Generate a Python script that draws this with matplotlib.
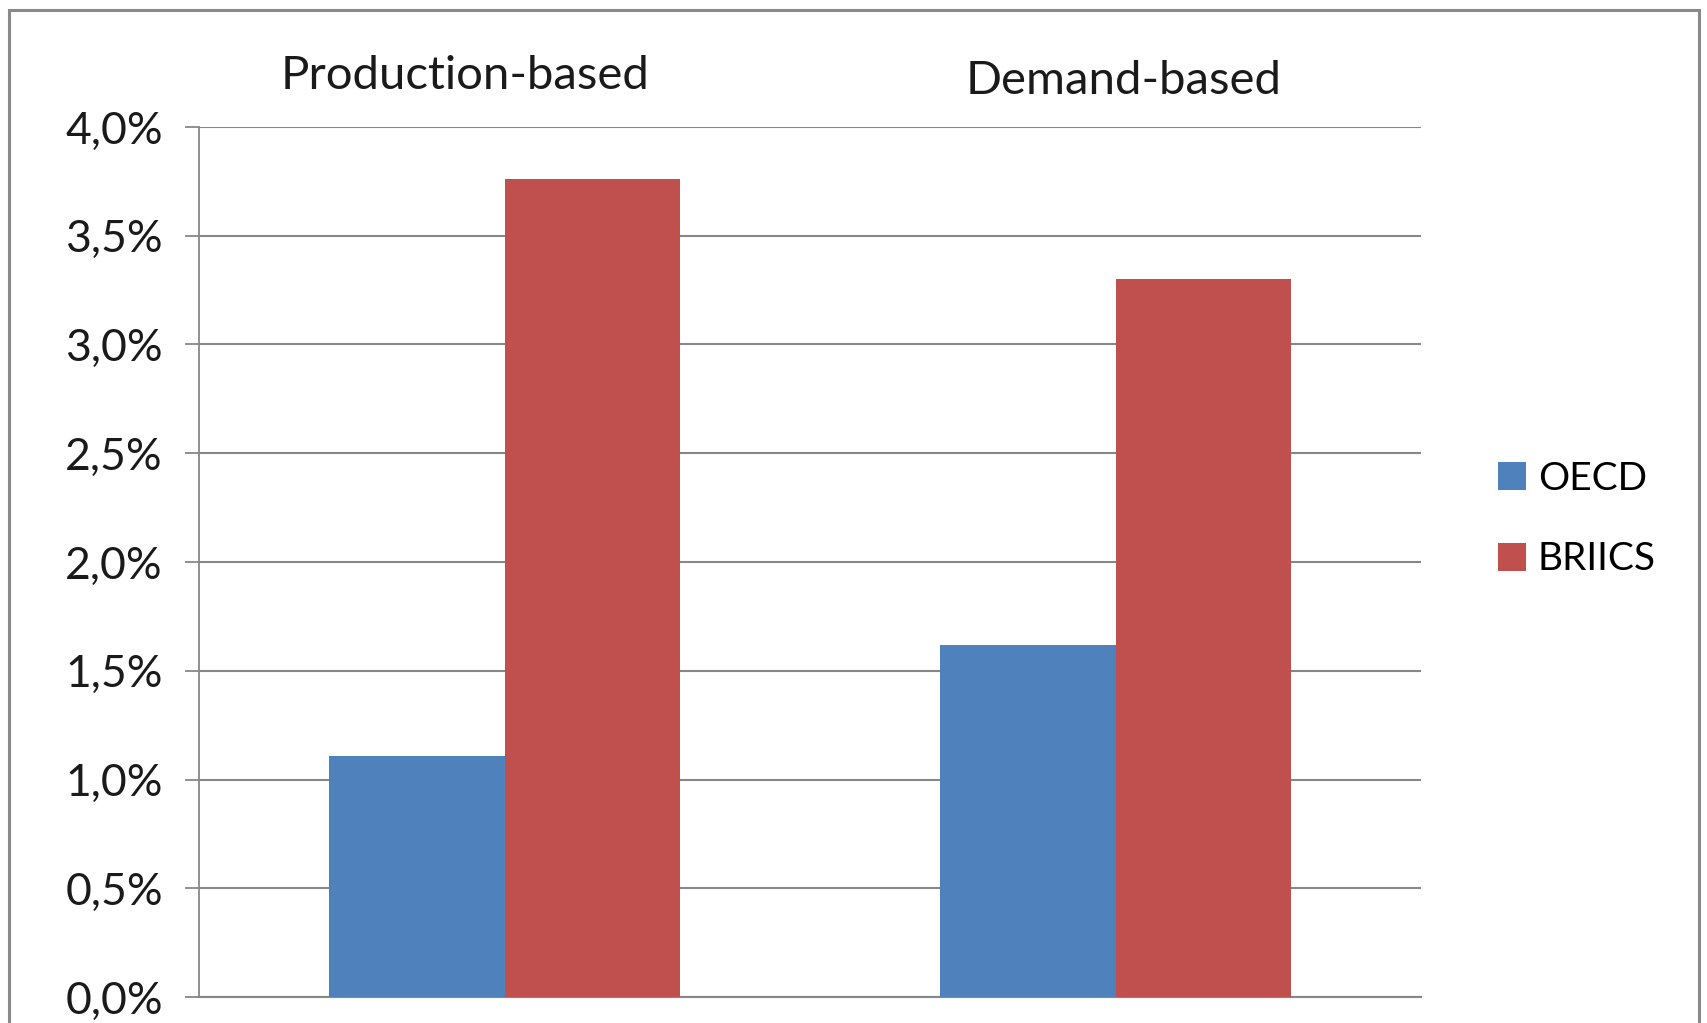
import matplotlib
matplotlib.use('Agg')
import matplotlib.pyplot as plt
from matplotlib.patches import Rectangle
import numpy as np

plt.rcParams['font.family'] = ['Lato', 'DejaVu Sans']

# data
categories = ['Production-based', 'Demand-based']
oecd = [1.11, 1.62]
briics = [3.76, 3.30]
series_names = ['OECD', 'BRIICS']
yticks = [0.0, 0.5, 1.0, 1.5, 2.0, 2.5, 3.0, 3.5, 4.0]
ytick_labels = ['0,0%', '0,5%', '1,0%', '1,5%', '2,0%', '2,5%', '3,0%', '3,5%', '4,0%']

blue = '#4F81BD'
red = '#C0504D'
grid_col = '#878787'

fig = plt.figure(figsize=(17.07, 10.23), dpi=100)
ax = fig.add_axes([0.1166, 0.0254, 0.7159, 0.8505])

x = np.arange(len(categories))
w = 0.287
ax.bar(x - w / 2, oecd, width=w, color=blue, label=series_names[0], zorder=3)
ax.bar(x + w / 2, briics, width=w, color=red, label=series_names[1], zorder=3)

ax.set_xlim(-0.5, 1.5)
ax.set_ylim(0, 4.0)
ax.set_yticks(yticks)
ax.set_yticklabels(ytick_labels, fontsize=32, color='#1a1a1a')
ax.yaxis.grid(True, color=grid_col, linewidth=1.5, zorder=0)
ax.set_xticks([])
ax.tick_params(axis='y', length=10, width=1.3, color=grid_col, pad=16)

for side in ['top', 'right']:
    ax.spines[side].set_visible(False)
ax.spines['left'].set_color(grid_col)
ax.spines['left'].set_linewidth(1.3)
ax.spines['bottom'].set_color(grid_col)
ax.spines['bottom'].set_linewidth(1.5)

# category labels above the plot
offsets = [-0.065, 0.013]
label_y = [4.235, 4.21]
for i, name in enumerate(categories):
    ax.text(x[i] + offsets[i], label_y[i], name, ha='center', va='center',
            fontsize=34, color='#1a1a1a')

leg = ax.legend(loc='center left', bbox_to_anchor=(1498 / 1707, 1 - 519 / 1023),
                bbox_transform=fig.transFigure, frameon=False, fontsize=28,
                handlelength=0.72, handleheight=0.72, handletextpad=0.3,
                labelspacing=1.15, borderpad=0, borderaxespad=0)

# outer chart frame
fig.patches.append(Rectangle((9 / 1707, -0.05), 1 - 17 / 1707, 1.05 - 10 / 1023,
                             transform=fig.transFigure, fill=False,
                             edgecolor='#8a8a8a', linewidth=2.2))

fig.savefig('out.png', dpi=100)
